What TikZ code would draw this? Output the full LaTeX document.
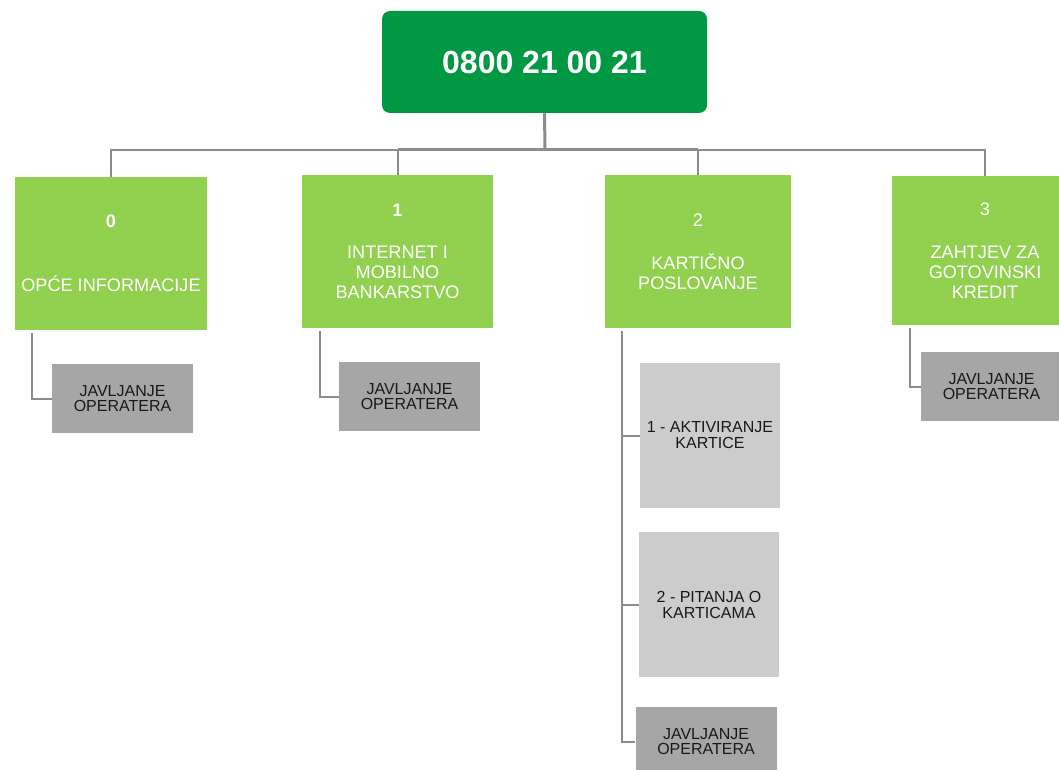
\documentclass[tikz,border=0pt]{standalone}
\usepackage{fontspec}
\setmainfont{Liberation Sans}
\usetikzlibrary{calc}
\definecolor{rootgreen}{HTML}{009843}
\definecolor{menugreen}{HTML}{92D050}
\definecolor{opergrey}{HTML}{A6A6A6}
\definecolor{subgrey}{HTML}{CCCCCC}
\definecolor{linegrey}{HTML}{8C8C8C}
\tikzset{
  rootbox/.style={fill=rootgreen, rounded corners=6pt, align=center, minimum width=243.75pt, minimum height=76.5pt, inner sep=0pt, text=white, font=\fontsize{24}{28}\selectfont\bfseries},
  menubox/.style={fill=menugreen, align=center, minimum height=114.75pt, inner sep=0pt, text=white, font=\fontsize{13.6}{15}\selectfont},
  operbox/.style={fill=opergrey, align=center, minimum width=105.75pt, minimum height=51.75pt, inner sep=0pt, text=black!90, font=\fontsize{12}{11.5}\selectfont},
  subbox/.style={fill=subgrey, align=center, minimum width=105pt, minimum height=108.75pt, inner sep=0pt, text=black!90, font=\fontsize{12}{12}\selectfont},
  link/.style={draw=linegrey, line width=1.5pt},
  trunk/.style={draw=linegrey, line width=2.25pt}
}
\begin{document}
\begin{tikzpicture}[x=0.75pt, y=-0.75pt]
\useasboundingbox (0,0) rectangle (1059,770);
\node[rootbox] (root) at (544.5,62) {0800 21 00 21};
\node[menubox, minimum width=144pt] (opce) at (111,253.5) {\textbf{0}\\[33pt]OPĆE INFORMACIJE};
\node[menubox, minimum width=143.25pt] (internet) at (397.5,251.5) {\textbf{1}\\[17pt]INTERNET I\\MOBILNO\\BANKARSTVO};
\node[menubox, minimum width=139.5pt] (kartice) at (698,251.5) {2\\[17pt]KARTIČNO\\POSLOVANJE};
\node[menubox, minimum width=139.5pt, minimum height=111.75pt] (kredit) at (985,250.5) {3\\[17pt]ZAHTJEV ZA\\GOTOVINSKI\\KREDIT};
\node[operbox] (operOpce) at (122.5,398.5) {JAVLJANJE\\OPERATERA};
\node[operbox] (operInternet) at (409.5,396.5) {JAVLJANJE\\OPERATERA};
\node[operbox] (operKredit) at (991.5,386.5) {JAVLJANJE\\OPERATERA};
\node[subbox] (aktiviranje) at (710,435.5) {1 - AKTIVIRANJE\\KARTICE};
\node[subbox] (pitanja) at (709,604.5) {2 - PITANJA O\\KARTICAMA};
\node[operbox] (operKartice) at (706,741.5) {JAVLJANJE\\OPERATERA};
\coordinate (bus) at (545,150);
\coordinate (karticeStem) at ($(kartice.south west)+(17,3)$);
\draw[link] (opce.north) |- (bus) -| (kredit.north);
\draw[link] (internet.north) -- (internet.north |- bus);
\draw[link] (kartice.north) -- (kartice.north |- bus);
\draw[trunk] (root.south) -- (bus);
\draw[trunk] (internet.north |- bus) -- (kartice.north |- bus);
\draw[link] ($(opce.south west)+(17,3)$) |- (operOpce.west);
\draw[link] ($(internet.south west)+(18,3)$) |- (operInternet.west);
\draw[link] ($(kredit.south west)+(18,3)$) |- (operKredit.west);
\draw[link] (karticeStem) |- (operKartice.west);
\draw[link] (karticeStem |- aktiviranje.west) -- (aktiviranje.west);
\draw[link] (karticeStem |- pitanja.west) -- (pitanja.west);
\end{tikzpicture}
\end{document}
